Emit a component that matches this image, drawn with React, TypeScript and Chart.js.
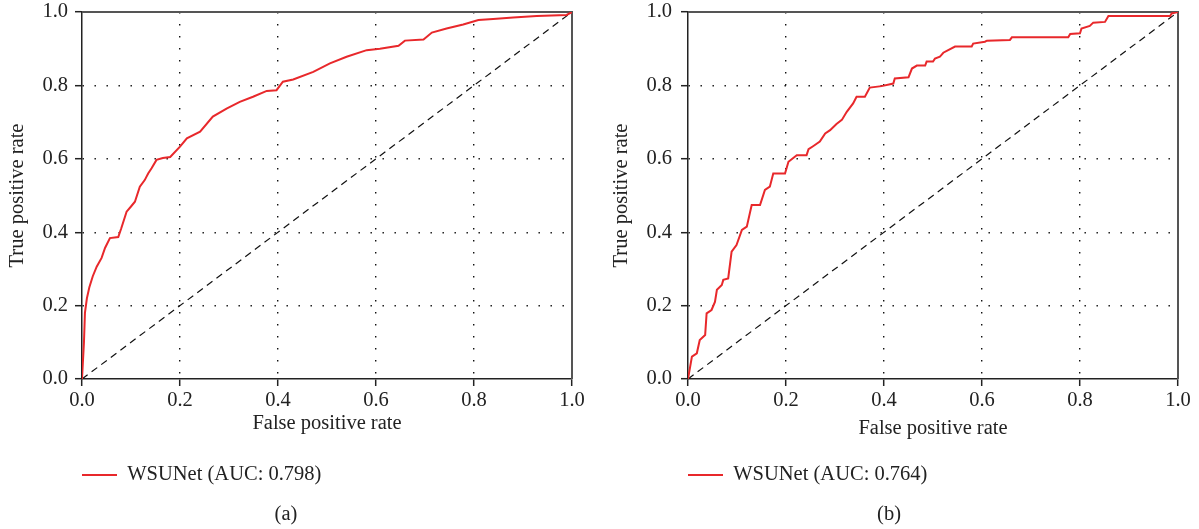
import React, { useEffect, useRef } from "react";
import { Chart, registerables } from "chart.js";

Chart.register(...registerables);

// ---- data ----
const fprA = [0, 0.004, 0.006, 0.01, 0.015, 0.022, 0.03, 0.04, 0.047, 0.057, 0.074, 0.08, 0.091, 0.1, 0.108, 0.118, 0.128, 0.135, 0.142, 0.152, 0.165, 0.18, 0.2, 0.214, 0.241, 0.267, 0.295, 0.322, 0.349, 0.377, 0.397, 0.41, 0.431, 0.472, 0.506, 0.54, 0.581, 0.608, 0.646, 0.659, 0.697, 0.714, 0.744, 0.778, 0.809, 0.839, 0.88, 0.928, 0.989, 1.0];
const tprA = [0, 0.1, 0.18, 0.22, 0.25, 0.28, 0.306, 0.33, 0.357, 0.384, 0.387, 0.41, 0.456, 0.47, 0.483, 0.524, 0.542, 0.56, 0.574, 0.597, 0.602, 0.605, 0.633, 0.656, 0.674, 0.715, 0.737, 0.755, 0.769, 0.785, 0.787, 0.81, 0.816, 0.837, 0.86, 0.878, 0.896, 0.9, 0.908, 0.922, 0.925, 0.944, 0.955, 0.966, 0.978, 0.981, 0.985, 0.989, 0.992, 1.0];

const fprB = [0, 0.008, 0.018, 0.024, 0.035, 0.038, 0.048, 0.055, 0.059, 0.069, 0.072, 0.082, 0.089, 0.099, 0.11, 0.12, 0.13, 0.147, 0.157, 0.167, 0.174, 0.198, 0.205, 0.222, 0.242, 0.246, 0.256, 0.269, 0.28, 0.29, 0.303, 0.314, 0.324, 0.337, 0.344, 0.361, 0.371, 0.395, 0.419, 0.422, 0.45, 0.457, 0.467, 0.484, 0.487, 0.5, 0.504, 0.514, 0.521, 0.531, 0.545, 0.579, 0.582, 0.606, 0.61, 0.657, 0.661, 0.776, 0.78, 0.8, 0.803, 0.82, 0.827, 0.851, 0.858, 0.984, 0.987, 1.0];
const tprB = [0, 0.061, 0.07, 0.106, 0.12, 0.179, 0.188, 0.21, 0.243, 0.256, 0.27, 0.274, 0.347, 0.365, 0.406, 0.415, 0.474, 0.474, 0.515, 0.524, 0.56, 0.56, 0.592, 0.61, 0.61, 0.626, 0.635, 0.647, 0.669, 0.678, 0.695, 0.706, 0.728, 0.751, 0.769, 0.769, 0.794, 0.798, 0.805, 0.819, 0.822, 0.846, 0.854, 0.854, 0.865, 0.865, 0.873, 0.878, 0.889, 0.896, 0.906, 0.906, 0.914, 0.919, 0.922, 0.924, 0.931, 0.931, 0.94, 0.942, 0.955, 0.962, 0.971, 0.973, 0.989, 0.989, 0.996, 1.0];

const diagX = [0, 1];
const diagY = [0, 1];

const legendA = "WSUNet (AUC: 0.798)";
const legendB = "WSUNet (AUC: 0.764)";
const captionA = "(a)";
const captionB = "(b)";
const xTitle = "False positive rate";
const yTitle = "True positive rate";

// ---- style ----
const FONT = "'Liberation Serif', 'Times New Roman', serif";
const FS = 20.5;
const RED = "#e8282b";
const INK = "#222";

const toPts = (xs: number[], ys: number[]) =>
  xs.slice(0, Math.min(xs.length, ys.length)).map((x, i) => ({ x, y: ys[i] }));

const framePlugin = {
  id: "frame",
  beforeDatasetsDraw(chart: any) {
    const { ctx, chartArea: a } = chart;
    ctx.save();
    ctx.strokeStyle = "#555";
    ctx.lineWidth = 2;
    ctx.beginPath();
    ctx.moveTo(a.left, a.top);
    ctx.lineTo(a.right, a.top);
    ctx.lineTo(a.right, a.bottom);
    ctx.stroke();
    ctx.restore();
  },
};

type P = {
  fpr: number[];
  tpr: number[];
  legend: string;
  caption: string;
  yAxisWidth: number;
  yTitlePad: number;
  yTickPad: number;
  xTitlePad: number;
  rightPad: number;
};

function makeConfig(p: P): any {
  const gridColor = (c: any) =>
    c.tick && (c.tick.value === 0 || c.tick.value === 1) ? "rgba(0,0,0,0)" : "#111";
  const font = { family: FONT, size: FS, lineHeight: 1.2 };
  const common = {
    type: "linear",
    min: 0,
    max: 1,
    grid: {
      color: gridColor,
      lineWidth: 1.4,
      tickColor: INK,
      tickLength: 7,
      tickWidth: 1.5,
      drawTicks: true,
    },
    border: { display: true, color: INK, width: 1.5, dash: [1.4, 10.6] },
  };
  return {
    type: "line",
    data: {
      datasets: [
        {
          label: p.legend,
          data: toPts(p.fpr, p.tpr),
          borderColor: RED,
          backgroundColor: RED,
          borderWidth: 2,
          pointRadius: 0,
          tension: 0,
          fill: false,
        },
        {
          label: "chance",
          data: toPts(diagX, diagY),
          borderColor: "#111",
          borderWidth: 1.2,
          borderDash: [7, 5],
          pointRadius: 0,
          fill: false,
        },
      ],
    },
    options: {
      animation: false,
      responsive: false,
      events: [],
      layout: { padding: { left: 0, right: p.rightPad, top: 12, bottom: 0 } },
      scales: {
        x: {
          ...common,
          position: "bottom",
          ticks: {
            stepSize: 0.2,
            padding: 2.7,
            color: INK,
            font,
            maxRotation: 0,
            callback: (v: any) => Number(v).toFixed(1),
          },
          title: {
            display: true,
            text: xTitle,
            color: INK,
            font,
            padding: { top: 0, bottom: p.xTitlePad },
          },
          afterFit: (s: any) => {
            s.height = 85.75;
            s.paddingLeft = 0;
            s.paddingRight = 0;
          },
        },
        y: {
          ...common,
          position: "left",
          ticks: {
            stepSize: 0.2,
            padding: p.yTickPad,
            color: INK,
            font,
            callback: (v: any) => Number(v).toFixed(1),
          },
          title: {
            display: true,
            text: yTitle,
            color: INK,
            font,
            padding: { top: p.yTitlePad, bottom: 0 },
          },
          afterFit: (s: any) => {
            s.width = p.yAxisWidth;
            s.paddingTop = 0;
            s.paddingBottom = 0;
          },
        },
      },
      plugins: {
        tooltip: { enabled: false },
        legend: {
          display: true,
          position: "bottom",
          align: "start",
          fullSize: false,
          labels: {
            padding: 0,
            boxWidth: 35,
            boxHeight: 2,
            color: INK,
            font,
            generateLabels: (chart: any) => [
              {
                text: chart.data.datasets[0].label,
                fillStyle: RED,
                strokeStyle: RED,
                lineWidth: 0,
                hidden: false,
                datasetIndex: 0,
                fontColor: INK,
              },
            ],
          },
        },
        title: {
          display: true,
          position: "bottom",
          text: p.caption,
          color: INK,
          font: { ...font, weight: "normal" },
          padding: { top: 7.45, bottom: 1.7 },
        },
      },
    },
    plugins: [framePlugin],
  };
}

function RocChart(props: { p: P; width: number; height: number }) {
  const ref = useRef<HTMLCanvasElement | null>(null);
  useEffect(() => {
    if (!ref.current) return;
    const chart = new Chart(ref.current, makeConfig(props.p));
    return () => chart.destroy();
  }, []);
  return (
    <canvas
      ref={ref}
      width={props.width}
      height={props.height}
      style={{ display: "block", width: props.width, height: props.height }}
    />
  );
}

export default function App() {
  const pA: P = {
    fpr: fprA,
    tpr: tprA,
    legend: legendA,
    caption: captionA,
    yAxisWidth: 82,
    yTitlePad: 5.7,
    yTickPad: 7,
    xTitlePad: 28.45,
    rightPad: 28,
  };
  const pB: P = {
    fpr: fprB,
    tpr: tprB,
    legend: legendB,
    caption: captionB,
    yAxisWidth: 88,
    yTitlePad: 9.7,
    yTickPad: 9,
    xTitlePad: 23.45,
    rightPad: 21,
  };
  return (
    <div
      style={{
        position: "absolute",
        left: 0,
        top: 0,
        width: 1199,
        height: 529,
        display: "flex",
        background: "#fff",
      }}
    >
      <RocChart p={pA} width={600} height={529} />
      <RocChart p={pB} width={599} height={529} />
    </div>
  );
}
